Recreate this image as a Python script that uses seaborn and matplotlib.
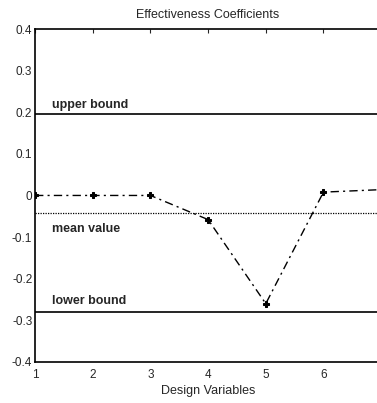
import numpy as np
import pandas as pd
import matplotlib
matplotlib.use("Agg")
import matplotlib.pyplot as plt
import seaborn as sns

# data
design_vars = [1, 2, 3, 4, 5, 6, 7]
coefficients = [0.0, 0.0, 0.0, -0.058, -0.26, 0.008, 0.014]
upper_bound = 0.195
lower_bound = -0.28
mean_value = -0.042
y_ticks = [-0.4, -0.3, -0.2, -0.1, 0, 0.1, 0.2, 0.3, 0.4]
y_tick_labels = ["-0.4", "-0.3", "-0.2", "-0.1", "0", "0.1", "0.2", "0.3", "0.4"]

sns.set_style("white")
plt.rcParams["font.family"] = ["Liberation Sans", "DejaVu Sans"]

df = pd.DataFrame({"var": design_vars, "coef": coefficients})

fig = plt.figure(figsize=(3.77, 4.03), dpi=100)
ax = fig.add_axes([0.093, 0.102, 0.918, 0.826])

sns.lineplot(data=df, x="var", y="coef", ax=ax, color="black",
             linestyle=(0, (6, 3, 1.5, 3)), linewidth=1.0,
             marker="P", markersize=5, markeredgecolor="black")

ax.axhline(upper_bound, color="black", linewidth=1.2)
ax.axhline(lower_bound, color="black", linewidth=1.2)
ax.axhline(mean_value, color="black", linewidth=0.9, linestyle=(0, (1, 1)))

ax.text(1.3, upper_bound + 0.015, "upper bound", fontsize=9, fontweight="bold")
ax.text(1.3, mean_value - 0.045, "mean value", fontsize=9, fontweight="bold")
ax.text(1.3, lower_bound + 0.018, "lower bound", fontsize=9, fontweight="bold")

ax.set_xlim(1, 7)
ax.set_ylim(-0.4, 0.4)
ax.set_xticks(design_vars)
ax.set_yticks(y_ticks)
ax.set_yticklabels(y_tick_labels)
ax.tick_params(direction="in", top=True, right=True, length=3,
               labelsize=8.5, pad=2)
ax.tick_params(axis="x", pad=5)
for s in ax.spines.values():
    s.set_color("black")
    s.set_linewidth(1.2)

ax.set_xlabel("Design Variables", fontsize=9, labelpad=3)
ax.set_ylabel("")
ax.set_title("Effectiveness Coefficients", fontsize=9, pad=8)

fig.savefig("out.png", dpi=100)
